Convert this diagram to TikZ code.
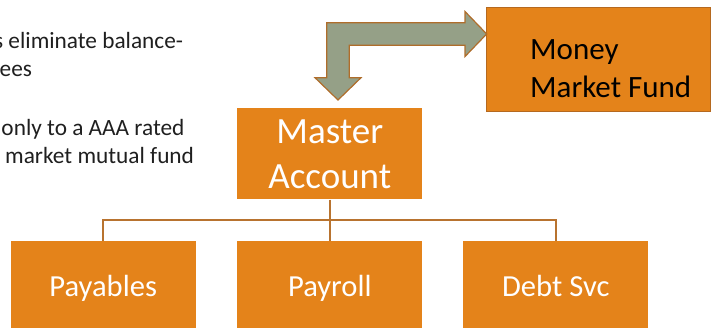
\documentclass[tikz,border=0pt]{standalone}
\usepackage{fontspec}
\setmainfont{Carlito}
\definecolor{boxorange}{HTML}{E4831A}
\definecolor{mmfborder}{HTML}{B5691F}
\definecolor{arrowfill}{HTML}{95A087}
\definecolor{arrowline}{HTML}{AF6D2B}
\definecolor{connline}{HTML}{B8732F}
\definecolor{bodytext}{HTML}{1F1F1F}
\begin{document}
\begin{tikzpicture}[x=1pt,y=-1pt,
  orangebox/.style={fill=boxorange, draw=none, inner sep=0pt, text=white},
  masterbox/.style={orangebox, minimum width=185pt, minimum height=91pt,
    font=\fontsize{37}{45}\selectfont, align=center},
  leafbox/.style={orangebox, minimum width=185pt, minimum height=96.6pt,
    font=\fontsize{30.6}{36}\selectfont, text height=21pt, text depth=7pt},
  mmfbox/.style={fill=boxorange, draw=mmfborder, line width=1pt,
    minimum width=224pt, minimum height=103.7pt, inner sep=0pt},
  mmflabel/.style={inner sep=0pt, text=black, align=left,
    font=\fontsize{31}{38}\selectfont},
  bodyline/.style={inner sep=0pt, anchor=base west, text=bodytext,
    font=\fontsize{23.3}{28}\selectfont},
  conn/.style={draw=connline, line width=1.5pt},
  bentarrow/.style={fill=arrowfill, draw=arrowline, line width=1.2pt, line join=miter}
]
\useasboundingbox (0,0) rectangle (712,327);

% left text
\node[bodyline] (t1) at (-6.1,48.3) {s eliminate balance-};
\node[bodyline] (t2) at (-0.5,76.7) {ees};
\node[bodyline] (t3) at (1.3,135) {only to a AAA rated};
\node[bodyline] (t4) at (5,163.3) {market mutual fund};

% boxes
\node[mmfbox] (mmf) at (598.7,59.2) {};
\node[mmflabel, anchor=north west] (mmftext) at (530,39.4) {Money\\Market Fund};

\node[masterbox] (master) at (329.8,153.8) {Master\\Account};

\node[leafbox] (payables) at (103.2,289) {Payables};
\node[leafbox] (payroll) at (329.8,289) {Payroll};
\node[leafbox] (debt) at (555.8,289) {Debt Svc};

% connectors
\coordinate (bus) at (329.8,220);
\draw[conn] (master.south) -- (payroll.north);
\draw[conn] (payables.north) -- (payables.north |- bus) -- (debt.north |- bus) -- (debt.north);

% bent block arrow
\draw[bentarrow] (326.7,22.7) -- (465,22.7) -- (465,11.5) -- (486.7,34) -- (465,56.5)
  -- (465,45.3) -- (349.3,45.3) -- (349.3,77.7) -- (361,77.7) -- (338,100)
  -- (315,77.7) -- (326.7,77.7) -- cycle;
\end{tikzpicture}
\end{document}
